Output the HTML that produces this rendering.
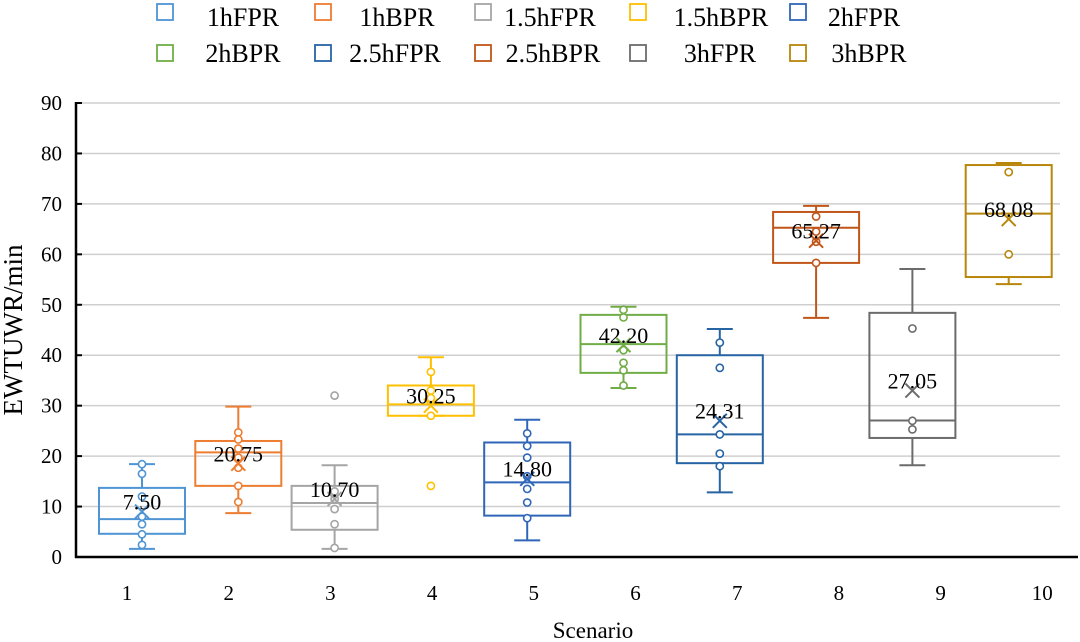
<!DOCTYPE html>
<html><head><meta charset="utf-8"><style>
body{margin:0;background:#fff;}
svg{display:block;font-family:"Liberation Serif",serif;}
</style></head><body>
<svg id="chart" width="1080" height="642" viewBox="0 0 1080 642">
<g id="grid"></g>
<g id="yticks"></g>
<g id="xticks"></g>
<g id="boxes"></g>
<g id="legend"></g>
<line x1="76" y1="102" x2="76" y2="558" stroke="#000" stroke-width="2.5"/>
<line x1="75" y1="557" x2="1078" y2="557" stroke="#000" stroke-width="2.5"/>
<text x="593" y="638" font-size="23" text-anchor="middle">Scenario</text>
<text transform="translate(22,330) rotate(-90)" font-size="27" text-anchor="middle">EWTUWR/min</text>
</svg>
<script>
const categories = ["1","2","3","4","5","6","7","8","9","10"];
const seriesNames = ["1hFPR","1hBPR","1.5hFPR","1.5hBPR","2hFPR","2hBPR","2.5hFPR","2.5hBPR","3hFPR","3hBPR"];
const colors = ["#4f94d4","#ed7d31","#a5a5a5","#ffc000","#2f66b8","#70ad47","#2764a4","#c0561a","#6b6b6b","#b8860b"];
const whiskerMin = [1.6, 8.7, 1.6, 28.0, 3.3, 33.5, 12.8, 47.4, 18.2, 54.1];
const q1 = [4.6, 14.1, 5.4, 28.0, 8.2, 36.5, 18.6, 58.3, 23.6, 55.5];
const medians = [7.50, 20.75, 10.70, 30.25, 14.80, 42.20, 24.31, 65.27, 27.05, 68.08];
const q3 = [13.7, 23.0, 14.1, 34.0, 22.7, 48.0, 40.0, 68.4, 48.4, 77.7];
const whiskerMax = [18.4, 29.8, 18.2, 39.6, 27.2, 49.6, 45.2, 69.6, 57.1, 78.1];
const means = [9.0, 18.5, 11.5, 30.0, 15.5, 42.0, 27.0, 62.7, 33.0, 67.0];
const points = [
 [18.4,16.5,12,8,6.5,4.5,2.4],
 [24.7,23.3,21.5,19.7,17.7,14.1,10.9],
 [32,13,11.5,9.5,6.5,1.8],
 [36.7,33,31.5,28,14.1],
 [24.5,22,19.7,16,13.5,10.8,7.7],
 [49,47.5,41,38.5,37,34],
 [42.5,37.5,24.3,20.5,18],
 [67.5,64.5,62.5,58.3],
 [45.3,27,25.3],
 [76.3,60]
];
const yTicks = [0,10,20,30,40,50,60,70,80,90];

const NS="http://www.w3.org/2000/svg";
function y(v){return 557 - v*(454/90);}
function xBox(i){return 142 + i*96.3;}
function xLabel(i){return 127 + i*101.7;}
function mk(tag,attrs,parent){const e=document.createElementNS(NS,tag);for(const k in attrs)e.setAttribute(k,attrs[k]);parent.appendChild(e);return e;}

const grid=document.getElementById('grid'), yt=document.getElementById('yticks'), xt=document.getElementById('xticks');
yTicks.forEach(t=>{
  if(t>0){const l=mk('line',{x1:77,x2:1060,y1:y(t),y2:y(t),stroke:'#cfcfcf','stroke-width':1.5},grid);
  
  }
  const tk=mk('line',{x1:76,x2:82,y1:y(t),y2:y(t),stroke:'#000','stroke-width':2},yt);
  
  
  const tx=mk('text',{x:62,y:y(t)+7,'font-size':21,'text-anchor':'end'},yt);tx.textContent=t;
  
  
});
categories.forEach((c,i)=>{
  const tx=mk('text',{x:xLabel(i),y:600,'font-size':21,'text-anchor':'middle'},xt);tx.textContent=c;
  
  
});
const bx=document.getElementById('boxes');
categories.forEach((c,i)=>{
  const g=mk('g',{stroke:colors[i],fill:'none','stroke-width':2},bx);
  
  
  const cx=xBox(i), hw=43, cw=13;
  mk('line',{x1:cx,x2:cx,y1:y(whiskerMax[i]),y2:y(q3[i])},g);
  mk('line',{x1:cx,x2:cx,y1:y(q1[i]),y2:y(whiskerMin[i])},g);
  mk('line',{x1:cx-cw,x2:cx+cw,y1:y(whiskerMax[i]),y2:y(whiskerMax[i])},g);
  mk('line',{x1:cx-cw,x2:cx+cw,y1:y(whiskerMin[i]),y2:y(whiskerMin[i])},g);
  mk('rect',{x:cx-hw,y:y(q3[i]),width:2*hw,height:y(q1[i])-y(q3[i])},g);
  mk('line',{x1:cx-hw,x2:cx+hw,y1:y(medians[i]),y2:y(medians[i])},g);
  points[i].forEach(p=>mk('circle',{cx:cx,cy:y(p),r:3.6,fill:'#fff','stroke-width':1.6},g));
  const my=y(means[i]);
  mk('path',{d:`M${cx-7},${my-7}L${cx+7},${my+7}M${cx+7},${my-7}L${cx-7},${my+7}`},g);
  const lb=mk('text',{x:cx,y:y(means[i]+2)+8,'font-size':22,'text-anchor':'middle',fill:'#000',stroke:'none'},bx);
  lb.textContent=medians[i].toFixed(2);
  
  
});
const lg=document.getElementById('legend');
const iconX=[157,315,475,630,790];
const textC=[[243,397,550,721,864],[243,395,553,720,869]];
seriesNames.forEach((n,i)=>{
  const row=Math.floor(i/5), col=i%5, iy=row?45:4, by=row?62:26;
  const g=mk('g',{},lg);
  
  
  mk('rect',{x:iconX[col],y:iy,width:16,height:16,fill:'none',stroke:colors[i],'stroke-width':1.8},g);
  const t=mk('text',{x:textC[row][col],y:by,'font-size':26,'text-anchor':'middle'},g);t.textContent=n;
});
</script>
</body></html>
